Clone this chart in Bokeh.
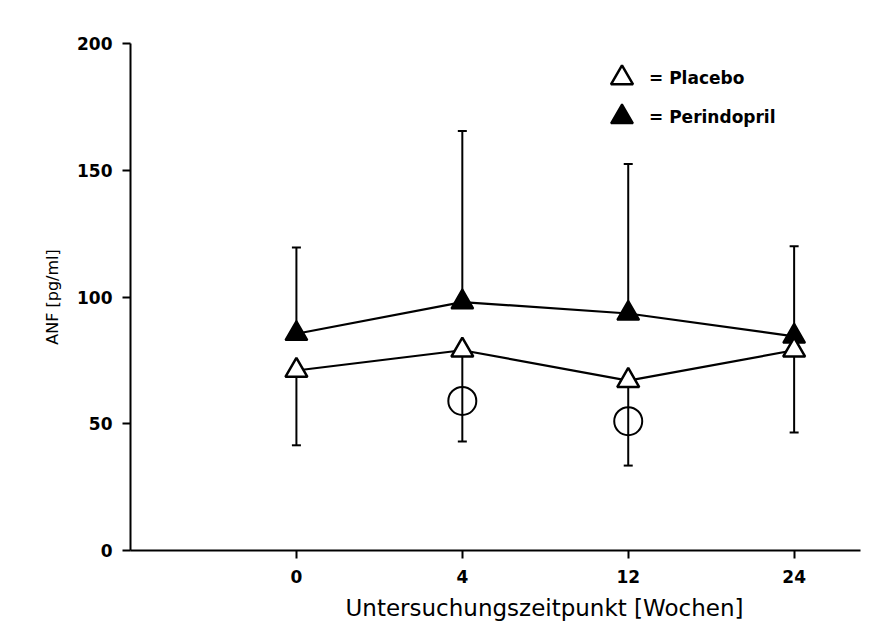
from bokeh.plotting import figure
from bokeh.models import (Range1d, FixedTicker, ColumnDataSource, Whisker, TeeHead,
                          Title, Legend, LegendItem)
from bokeh.embed import file_html
from bokeh.resources import INLINE

# ---- data ----
weeks = ["0", "4", "12", "24"]
placebo_mean = [71, 79, 67, 79]
placebo_lower = [41.5, 43, 33.5, 46.5]
perindopril_mean = [85.5, 98, 93.5, 84.5]
perindopril_upper = [119.5, 165.5, 152.5, 120]
circle_weeks = ["4", "12"]
circle_values = [59, 51]
y_ticks = [0, 50, 100, 150, 200]
series_labels = ["= Placebo", "= Perindopril"]

xpos = list(range(len(weeks)))
circle_x = [weeks.index(w) for w in circle_weeks]

FONT = "DejaVu Sans"

p = figure(width=869, height=630, output_backend="svg", toolbar_location=None,
           x_range=Range1d(-1, 3.4), y_range=Range1d(0, 200),
           min_border_left=130, min_border_right=9, min_border_top=43, min_border_bottom=80)
p.background_fill_color = "white"
p.border_fill_color = "white"
p.outline_line_color = None
p.grid.visible = False

# axes
p.xaxis.ticker = FixedTicker(ticks=xpos)
p.xaxis.major_label_overrides = {i: w for i, w in zip(xpos, weeks)}
p.yaxis.ticker = FixedTicker(ticks=y_ticks)
for ax in (p.xaxis[0], p.yaxis[0]):
    ax.axis_line_width = 2
    ax.axis_line_color = "black"
    ax.major_tick_line_width = 2
    ax.major_tick_line_color = "black"
    ax.major_tick_in = 0
    ax.major_tick_out = 8
    ax.minor_tick_line_color = None
    ax.major_label_text_font = FONT
    ax.major_label_text_font_style = "bold"
    ax.major_label_text_font_size = "17px"
    ax.major_label_text_color = "black"
p.xaxis.major_label_standoff = 11
p.yaxis.major_label_standoff = 10
p.yaxis.axis_label = "ANF [pg/ml]"
p.yaxis.axis_label_text_font = FONT
p.yaxis.axis_label_text_font_style = "normal"
p.yaxis.axis_label_text_font_size = "16px"
p.yaxis.axis_label_text_color = "black"
p.yaxis.axis_label_standoff = 12

# error bars (one-sided)
src_per = ColumnDataSource(dict(x=xpos, mean=perindopril_mean, upper=perindopril_upper))
src_pla = ColumnDataSource(dict(x=xpos, mean=placebo_mean, lower=placebo_lower))
p.add_layout(Whisker(source=src_per, base="x", lower="mean", upper="upper",
                     line_width=2, line_color="black", lower_head=None,
                     upper_head=TeeHead(size=9, line_width=2, line_color="black")))
p.add_layout(Whisker(source=src_pla, base="x", lower="lower", upper="mean",
                     line_width=2, line_color="black", upper_head=None,
                     lower_head=TeeHead(size=9, line_width=2, line_color="black")))

# lines
p.line("x", "mean", source=src_per, line_width=2.2, line_color="black")
p.line("x", "mean", source=src_pla, line_width=2.2, line_color="black")

# markers
r_per = p.scatter("x", "mean", source=src_per, marker="triangle", size=22,
                  fill_color="black", line_color="black", line_width=2)
r_pla = p.scatter("x", "mean", source=src_pla, marker="triangle", size=22,
                  fill_color="white", line_color="black", line_width=2.5)

# circles
p.scatter(circle_x, circle_values, marker="circle", size=28, fill_color=None,
          line_color="black", line_width=2)

# legend: one small legend per series (stacked tighter than Bokeh's own spacing)
for label, rend, loc in zip(series_labels, [r_pla, r_per], [(464, 445), (464, 406)]):
    lg = Legend(items=[LegendItem(label=label, renderers=[rend])],
                location=loc, glyph_width=55, glyph_height=55,
                label_standoff=0, padding=0, margin=0, border_line_color=None,
                background_fill_alpha=0, label_text_font=FONT, label_text_color="black",
                label_text_font_style="bold", label_text_font_size="17px")
    p.add_layout(lg, "center")

# x axis title (off-centre in the reference)
p.add_layout(Title(text="Untersuchungszeitpunkt [Wochen]", align="left", offset=215,
                   standoff=14, text_font=FONT, text_font_size="23px",
                   text_font_style="normal", text_color="black"), "below")

open("out.html", "w").write(file_html(p, INLINE))
